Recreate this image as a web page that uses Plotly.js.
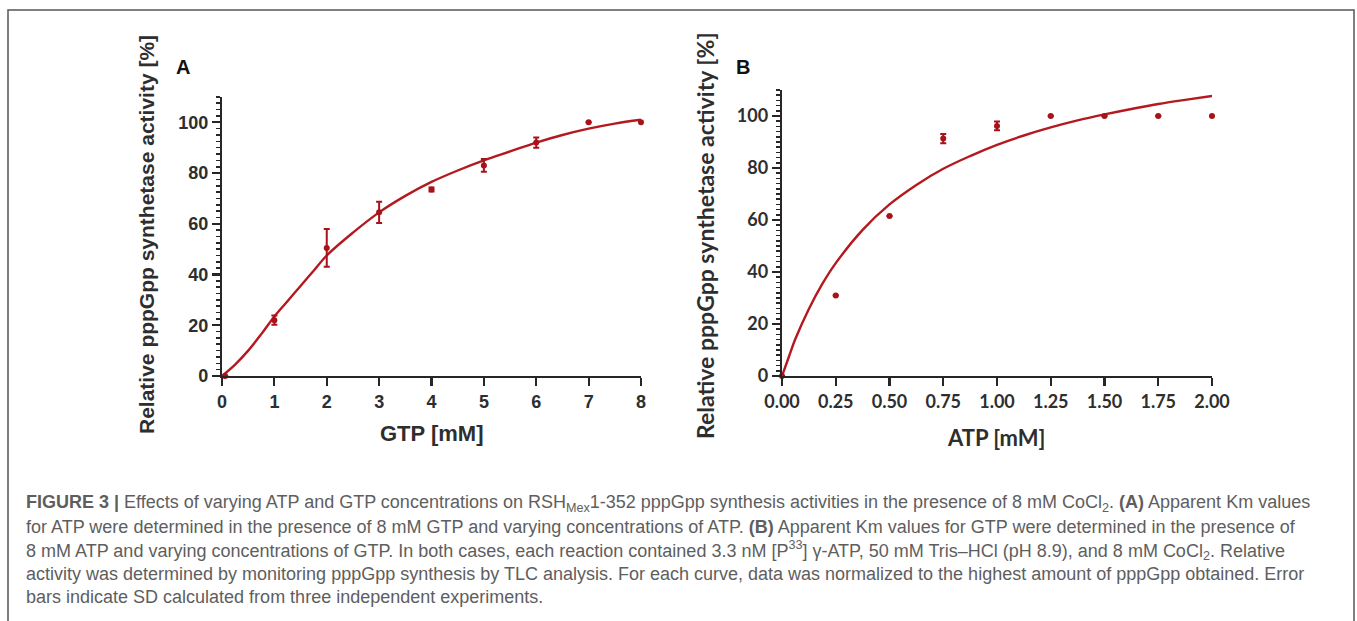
<!DOCTYPE html>
<html>
<head>
<meta charset="utf-8">
<script src="https://cdn.plot.ly/plotly-3.0.1.min.js"></script>
<style>html,body{margin:0;padding:0;background:#fff;}#chart{width:1357px;height:621px;}</style>
</head>
<body>
<div id="chart"></div>
<script>
// ---- Panel A: GTP ----
const gtpX = [0.06, 1, 2, 3, 4, 5, 6, 7, 8];
const gtpY = [0, 22, 50.5, 64.5, 73.5, 83, 92, 100, 100];
const gtpErr = [null, 1.8, 7.4, 4.2, 0.8, 2.5, 2, null, null];
const gtpFitX = [0, 0.25, 0.5, 0.75, 1, 1.25, 1.5, 1.75, 2, 2.5, 3, 3.5, 4, 4.5, 5, 5.5, 6, 6.5, 7, 7.5, 8];
const gtpFitY = [0, 4.5, 10, 16.5, 23.5, 29.5, 35.5, 41.5, 47.5, 56.5, 64.5, 71, 76.5, 81, 85, 88.5, 92, 95, 97.5, 99.5, 101];

// ---- Panel B: ATP ----
const atpX = [0, 0.25, 0.5, 0.75, 1.0, 1.25, 1.5, 1.75, 2.0];
const atpY = [0, 31, 61.5, 91.3, 96.2, 100, 100, 100, 100];
const atpErr = [null, null, null, 1.8, 1.7, null, null, null, null];
const atpFitX = [0, 0.03125, 0.0625, 0.125, 0.1875, 0.25, 0.375, 0.5, 0.625, 0.75, 0.875, 1, 1.125, 1.25, 1.375, 1.5, 1.625, 1.75, 1.875, 2];
const atpFitY = [0, 7.2, 14.3, 25.8, 35.4, 43.4, 56.2, 66, 73.5, 79.7, 84.6, 88.9, 92.5, 95.6, 98.3, 100.6, 102.7, 104.6, 106.2, 107.7];

const gtpTicks = [0, 1, 2, 3, 4, 5, 6, 7, 8];
const atpTicks = [0, 0.25, 0.5, 0.75, 1, 1.25, 1.5, 1.75, 2];
const atpTickText = ['0.00', '0.25', '0.50', '0.75', '1.00', '1.25', '1.50', '1.75', '2.00'];
const yTicks = [0, 20, 40, 60, 80, 100];

const yTitle = 'Relative pppGpp synthetase activity [%]';
const captionLines = [
  '<b>FIGURE 3 |</b> Effects of varying ATP and GTP concentrations on RSH<sub>Mex</sub>1-352 pppGpp synthesis activities in the presence of 8 mM CoCl<sub>2</sub>. <b>(A)</b> Apparent Km values',
  'for ATP were determined in the presence of 8 mM GTP and varying concentrations of ATP. <b>(B)</b> Apparent Km values for GTP were determined in the presence of',
  '8 mM ATP and varying concentrations of GTP. In both cases, each reaction contained 3.3 nM [P<sup>33</sup>] γ-ATP, 50 mM Tris–HCl (pH 8.9), and 8 mM CoCl<sub>2</sub>. Relative',
  'activity was determined by monitoring pppGpp synthesis by TLC analysis. For each curve, data was normalized to the highest amount of pppGpp obtained. Error',
  'bars indicate SD calculated from three independent experiments.'
];

const W = 1357, H = 621;
const fx = p => p / W;
const fy = p => 1 - p / H;

const RED_LINE = '#b3191e';
const RED_DOT = '#a8121a';
const AX = '#262626';
const fontA = 'Liberation Sans, Arial, sans-serif';
const fontB = 'Lato, Open Sans, sans-serif';

const traces = [
  {x: gtpFitX, y: gtpFitY, xaxis: 'x', yaxis: 'y', mode: 'lines', line: {color: RED_LINE, width: 2.4, shape: 'spline', smoothing: 1}, hoverinfo: 'skip', cliponaxis: false},
  {x: gtpX, y: gtpY, xaxis: 'x', yaxis: 'y', mode: 'markers', marker: {color: RED_DOT, size: 6},
   error_y: {type: 'data', array: gtpErr, visible: true, color: RED_DOT, thickness: 2, width: 3}, cliponaxis: false},
  {x: atpFitX, y: atpFitY, xaxis: 'x2', yaxis: 'y2', mode: 'lines', line: {color: RED_LINE, width: 2.4, shape: 'spline', smoothing: 1}, hoverinfo: 'skip', cliponaxis: false},
  {x: atpX, y: atpY, xaxis: 'x2', yaxis: 'y2', mode: 'markers', marker: {color: RED_DOT, size: 6},
   error_y: {type: 'data', array: atpErr, visible: true, color: RED_DOT, thickness: 2, width: 3}, cliponaxis: false}
];

function xAx(domain, range, tickvals, ticktext, font, anchor) {
  return {domain: domain, range: range, anchor: anchor, tickmode: 'array', tickvals: tickvals, ticktext: ticktext,
    showline: true, linecolor: AX, linewidth: 2.2, ticks: 'outside', ticklen: 8, tickwidth: 2.2, tickcolor: AX,
    showgrid: false, zeroline: false, fixedrange: true,
    tickfont: {family: font, size: 18, color: '#2e2e2e', weight: 700}};
}
function yAx(domain, minorStep, font, anchor) {
  return {domain: domain, range: [0, 110], anchor: anchor, tickmode: 'array', tickvals: yTicks,
    showline: true, linecolor: AX, linewidth: 2.2, ticks: 'outside', ticklen: 8, tickwidth: 2.2, tickcolor: AX,
    minor: {dtick: minorStep, tick0: 0, ticks: 'outside', ticklen: 4, tickwidth: 1.6, tickcolor: AX, showgrid: false},
    showgrid: false, zeroline: false, fixedrange: true,
    tickfont: {family: font, size: 18, color: '#2e2e2e', weight: 700}};
}

const annotations = [
  {text: '<b>A</b>', x: fx(183), y: fy(67), font: {family: fontA, size: 20, color: '#111'}},
  {text: '<b>B</b>', x: fx(743), y: fy(67), font: {family: fontA, size: 20, color: '#111'}},
  {text: '<b>GTP [mM]</b>', x: fx(432), y: fy(433), font: {family: fontA, size: 22, color: '#2e2e2e'}},
  {text: '<b>' + yTitle + '</b>', x: fx(146), y: fy(235), textangle: -90, font: {family: fontA, size: 21, color: '#2e2e2e'}},
  {text: '<b>ATP [mM]</b>', x: fx(997), y: fy(437), font: {family: fontB, size: 22, color: '#2e2e2e'}},
  {text: '<b>' + yTitle + '</b>', x: fx(705), y: fy(236), textangle: -90, font: {family: fontB, size: 23, color: '#2e2e2e'}}
].map(a => Object.assign({xref: 'paper', yref: 'paper', showarrow: false, xanchor: 'center', yanchor: 'middle'}, a));

const capY = [503, 527, 550, 574, 597];
captionLines.forEach((t, i) => {
  annotations.push({text: t, xref: 'paper', yref: 'paper', x: fx(24), y: fy(capY[i]), xanchor: 'left', yanchor: 'middle',
    showarrow: false, align: 'left', font: {family: 'Liberation Sans, Arial, sans-serif', size: 18, color: '#5e5e5e'}});
});

const layout = {
  width: W, height: H, margin: {l: 0, r: 0, t: 0, b: 0}, paper_bgcolor: '#fff', plot_bgcolor: 'rgba(0,0,0,0)',
  showlegend: false,
  xaxis: xAx([fx(222), fx(641)], [0, 8], gtpTicks, gtpTicks.map(String), fontA, 'y'),
  yaxis: yAx([fy(376), fy(376 - 110 * 2.537)], 2.5, fontA, 'x'),
  xaxis2: xAx([fx(782), fx(1212)], [0, 2], atpTicks, atpTickText, fontB, 'y2'),
  yaxis2: yAx([fy(376), fy(376 - 110 * 2.6)], 2, fontB, 'x2'),
  annotations: annotations,
  shapes: [
    {type: 'rect', xref: 'paper', yref: 'paper', x0: fx(8), x1: fx(1354), y0: fy(640), y1: fy(10), line: {color: '#555', width: 1.5}, fillcolor: 'rgba(0,0,0,0)'}
  ]
};

Plotly.newPlot('chart', traces, layout, {displayModeBar: false, staticPlot: true});
</script>
</body>
</html>
